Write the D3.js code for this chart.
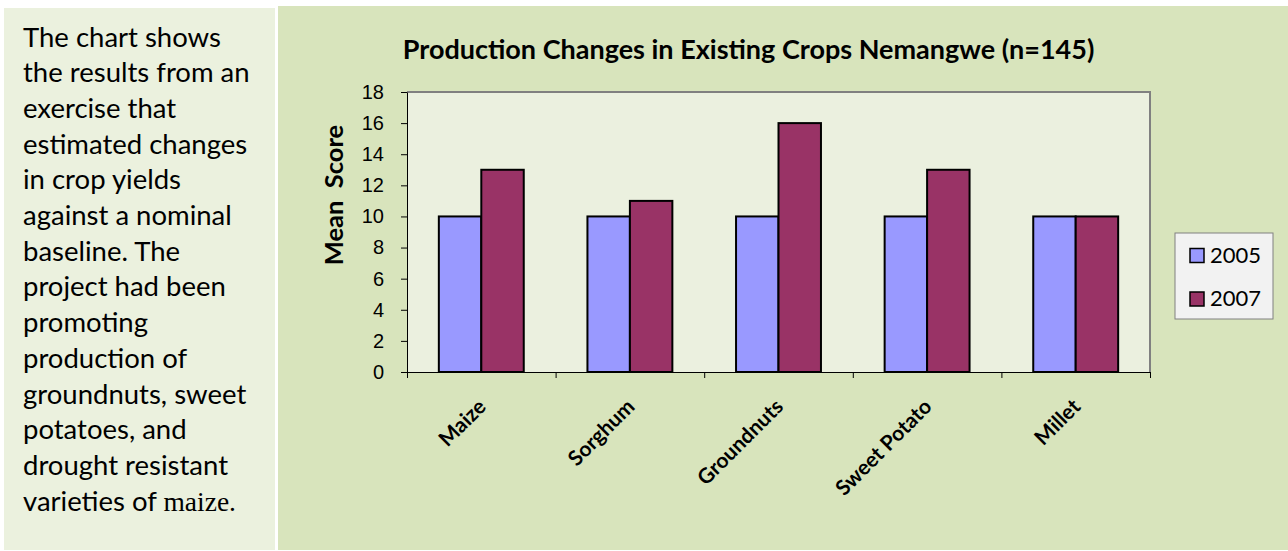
<!DOCTYPE html>
<html>
<head>
<meta charset="utf-8">
<script src="https://cdn.jsdelivr.net/npm/d3@7"></script>
<style>
  html, body { margin: 0; padding: 0; background: #ffffff; }
  svg { display: block; }
</style>
</head>
<body>
<svg id="chart" width="1288" height="551"></svg>
<script>
// ---- data ----
const categories = ["Maize", "Sorghum", "Groundnuts", "Sweet Potato", "Millet"];
const seriesNames = ["2005", "2007"];
const values2005 = [10, 10, 10, 10, 10];
const values2007 = [13, 11, 16, 13, 10];
const yTicks = [0, 2, 4, 6, 8, 10, 12, 14, 16, 18];
const chartTitle = "Production Changes in Existing Crops Nemangwe (n=145)";
const yTitle = "Mean  Score";
const descLines = [
  "The chart shows",
  "the results from an",
  "exercise that",
  "estimated changes",
  "in crop yields",
  "against a nominal",
  "baseline. The",
  "project had been",
  "promoting",
  "production of",
  "groundnuts, sweet",
  "potatoes, and",
  "drought resistant",
  "varieties of |maize."
];
const seriesColors = ["#9999ff", "#993366"];

// ---- layout ----
const svg = d3.select("#chart");
const sans = "Lato, 'Open Sans', sans-serif";
const plot = { left: 407, right: 1150, top: 92, bottom: 372 };

// panels
svg.append("rect").attr("x", 4).attr("y", 8).attr("width", 271).attr("height", 542).attr("fill", "#ebf1de");
svg.append("rect").attr("x", 278).attr("y", 6).attr("width", 1010).attr("height", 544).attr("fill", "#d8e4bc");

// left description
const desc = svg.append("text")
  .attr("font-family", sans)
  .attr("font-size", 27.5)
  .attr("fill", "#000");
descLines.forEach((line, i) => {
  const parts = line.split("|");
  desc.append("tspan").attr("x", 23).attr("y", 46.5 + i * 35.7).text(parts[0]);
  if (parts[1]) {
    desc.append("tspan")
      .attr("font-family", "'Liberation Serif', 'Times New Roman', serif")
      .attr("font-size", 27.5)
      .text(parts[1]);
  }
});

// scales
const x = d3.scaleBand().domain(categories).range([plot.left, plot.right]).padding(0);
const xInner = d3.scaleBand().domain(seriesNames).range([0, x.bandwidth()]).paddingInner(0).paddingOuter(0.75);
const y = d3.scaleLinear().domain([0, 18]).range([plot.bottom, plot.top]);
const xEdges = d3.scaleLinear().domain([0, categories.length]).range([plot.left, plot.right]);

// plot area background
svg.append("rect")
  .attr("x", plot.left).attr("y", plot.top)
  .attr("width", plot.right - plot.left).attr("height", plot.bottom - plot.top)
  .attr("fill", "#ebf0df");
// top and right border (gray)
svg.append("path")
  .attr("d", `M${plot.left},${plot.top}H${plot.right}V${plot.bottom}`)
  .attr("fill", "none").attr("stroke", "#808080").attr("stroke-width", 2);

// bars
const rows = categories.map((c, i) => ({ cat: c, vals: [values2005[i], values2007[i]] }));
const groups = svg.append("g").selectAll("g").data(rows).join("g")
  .attr("transform", d => `translate(${x(d.cat)},0)`);
groups.selectAll("rect")
  .data(d => d.vals.map((v, j) => ({ s: seriesNames[j], v, j })))
  .join("rect")
  .attr("x", d => xInner(d.s))
  .attr("y", d => y(d.v))
  .attr("width", xInner.bandwidth())
  .attr("height", d => y(0) - y(d.v))
  .attr("fill", d => seriesColors[d.j])
  .attr("stroke", "#000").attr("stroke-width", 2);

// y axis
const yAxis = svg.append("g")
  .attr("transform", `translate(${plot.left},0)`)
  .call(d3.axisLeft(y).tickValues(yTicks).tickSize(6).tickPadding(17).tickSizeOuter(0));
yAxis.select(".domain").attr("stroke", "#000");
yAxis.selectAll(".tick line").attr("stroke", "#000");
yAxis.selectAll(".tick text")
  .attr("font-family", "'Liberation Sans', Arial, sans-serif")
  .attr("font-size", 20).attr("fill", "#000");

// x axis (tick marks at category boundaries)
const xAxis = svg.append("g")
  .attr("transform", `translate(0,${plot.bottom})`)
  .call(d3.axisBottom(xEdges).tickValues(d3.range(categories.length + 1)).tickSize(6).tickFormat("").tickSizeOuter(0));
xAxis.select(".domain").attr("stroke", "#000");
xAxis.selectAll(".tick line").attr("stroke", "#000");

// category labels
svg.append("g").selectAll("text").data(categories).join("text")
  .attr("transform", d => `translate(${x(d) + x.bandwidth() / 2 + 6},${plot.bottom + 36}) rotate(-45)`)
  .attr("text-anchor", "end")
  .attr("font-family", sans).attr("font-weight", "bold").attr("font-size", 21)
  .attr("fill", "#000")
  .text(d => d);

// title
svg.append("text")
  .attr("x", 748.5).attr("y", 59)
  .attr("text-anchor", "middle")
  .attr("font-family", sans).attr("font-weight", "bold").attr("font-size", 27)
  .attr("fill", "#000")
  .text(chartTitle);

// y title
svg.append("text")
  .attr("transform", "translate(343,195) rotate(-90)")
  .attr("text-anchor", "middle")
  .attr("font-family", sans).attr("font-weight", "bold").attr("font-size", 25.5)
  .attr("fill", "#000")
  .attr("xml:space", "preserve")
  .style("white-space", "pre")
  .text(yTitle);

// legend
const legend = svg.append("g");
legend.append("rect")
  .attr("x", 1175).attr("y", 233).attr("width", 98).attr("height", 86)
  .attr("fill", "#f2f2f2").attr("stroke", "#808080").attr("stroke-width", 1);
const li = legend.selectAll("g").data(seriesNames).join("g")
  .attr("transform", (d, i) => `translate(1190,${248.5 + i * 43.5})`);
li.append("rect").attr("width", 14).attr("height", 14)
  .attr("fill", (d, i) => seriesColors[i]).attr("stroke", "#000").attr("stroke-width", 1.5);
li.append("text").attr("x", 20).attr("y", 14)
  .attr("font-family", sans).attr("font-size", 22).attr("fill", "#000")
  .text(d => d);
</script>
</body>
</html>
